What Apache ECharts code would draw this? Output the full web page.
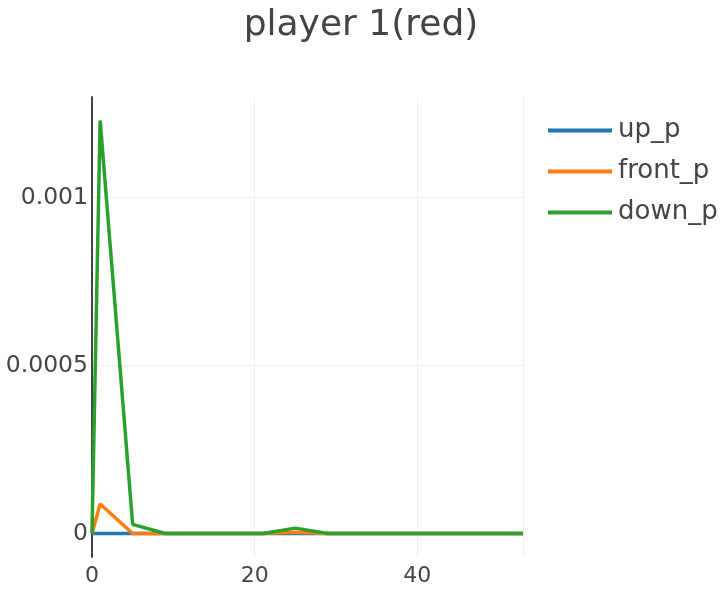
<!DOCTYPE html>
<html>
<head>
<meta charset="utf-8">
<script src="https://cdn.jsdelivr.net/npm/echarts@6/dist/echarts.min.js"></script>
<style>html,body{margin:0;padding:0;background:#fff;}#c{width:722px;height:590px;}</style>
</head>
<body>
<div id="c"></div>
<script>
const xValues = [0, 1, 5, 9, 13, 17, 21, 25, 29, 33, 37, 41, 45, 49, 53];
const upP    = [0, 0, 0, 0, 0, 0, 0, 0, 0, 0, 0, 0, 0, 0, 0];
const frontP = [0, 0.000088, 0, 0, 0, 0, 0, 0.000004, 0, 0, 0, 0, 0, 0, 0];
const downP  = [0, 0.00123, 0.000027, 0, 0, 0, 0, 0.000016, 0, 0, 0, 0, 0, 0, 0];
const yTicks = [0, 0.0005, 0.001];
const seriesNames = ['up_p', 'front_p', 'down_p'];
const colors = ['#1f77b4', '#ff7f0e', '#2ca02c'];

const pair = arr => xValues.map((x, i) => [x, arr[i]]);
const FONT = 'DejaVu Sans';

const chart = echarts.init(document.getElementById('c'), null, {renderer: 'canvas'});
chart.setOption({
  animation: false,
  color: colors,
  title: {
    text: 'player 1(red)',
    left: 'center',
    top: 3,
    textStyle: {fontFamily: FONT, fontSize: 36, fontWeight: 'normal', color: '#444'}
  },
  legend: {
    orient: 'vertical',
    left: 543,
    top: 112,
    icon: 'rect',
    itemWidth: 64,
    itemHeight: 4,
    itemGap: 14,
    textStyle: {fontFamily: FONT, fontSize: 26, color: '#444', lineHeight: 27, padding: [0, 0, 0, 1]},
    data: seriesNames
  },
  grid: {left: 92, right: 199, top: 97, bottom: 33, containLabel: false},
  xAxis: {
    type: 'value',
    min: 0,
    max: 53,
    interval: 20,
    axisLine: {show: false},
    axisTick: {show: false},
    axisLabel: {fontFamily: FONT, fontSize: 22, color: '#444', margin: 8, showMaxLabel: false},
    splitLine: {show: true, lineStyle: {color: '#eeeeee', width: 1}}
  },
  yAxis: {
    type: 'value',
    min: -0.00007,
    max: 0.0013,
    axisLine: {show: true, onZero: false, lineStyle: {color: '#444', width: 2}},
    axisTick: {show: false, customValues: yTicks},
    axisLabel: {fontFamily: FONT, fontSize: 23.5, color: '#444', margin: 4, customValues: yTicks},
    splitLine: {show: true, customValues: yTicks, lineStyle: {color: '#eeeeee', width: 1}}
  },
  series: [
    {name: seriesNames[0], type: 'line', data: pair(upP), showSymbol: false, lineStyle: {width: 3.5}},
    {name: seriesNames[1], type: 'line', data: pair(frontP), showSymbol: false, lineStyle: {width: 3.5}},
    {name: seriesNames[2], type: 'line', data: pair(downP), showSymbol: false, lineStyle: {width: 3.5}}
  ]
});
</script>
</body>
</html>
